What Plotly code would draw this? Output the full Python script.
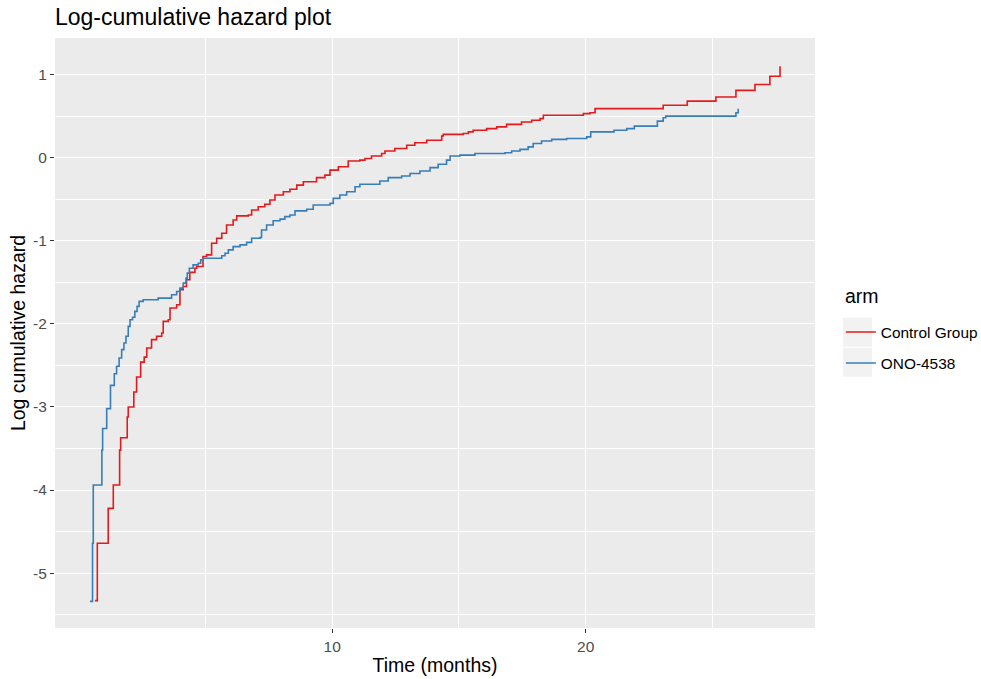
import plotly.graph_objects as go

# Data (time in months, log cumulative hazard), step function
ctrl_t = [0.64, 0.73, 1.16, 1.36, 1.61, 1.65, 1.91, 1.95, 2.17, 2.28, 2.44, 2.58, 2.68, 2.87,
          3.07, 3.27, 3.33, 3.53, 3.60, 3.86, 3.99, 4.12, 4.25, 4.38, 4.58, 4.65, 4.90, 5.04,
          5.24, 5.44, 5.64, 5.83, 6.09, 6.23, 6.69, 6.82, 7.08, 7.34, 7.54, 7.74, 8.07, 8.33,
          8.60, 8.86, 9.38, 9.71, 9.91, 10.24, 10.63, 11.09, 11.29, 11.55, 11.95, 12.08, 12.47,
          12.94, 13.26, 13.73, 14.32, 14.38, 15.17, 15.37, 15.56, 16.09, 16.49, 16.88, 17.47,
          17.87, 18.20, 18.33, 19.91, 20.17, 20.37, 23.06, 24.01, 25.14, 25.93, 26.68, 27.27, 27.67]
ctrl_y = [-5.33, -4.64, -4.22, -3.94, -3.52, -3.37, -3.12, -3.00, -2.82, -2.64, -2.46, -2.40, -2.29, -2.19,
          -2.15, -2.11, -1.97, -1.95, -1.81, -1.77, -1.59, -1.55, -1.47, -1.38, -1.33, -1.31, -1.19, -1.17,
          -1.03, -0.97, -0.91, -0.81, -0.75, -0.70, -0.69, -0.63, -0.59, -0.56, -0.51, -0.45, -0.41, -0.38,
          -0.33, -0.29, -0.24, -0.21, -0.15, -0.11, -0.04, -0.03, -0.01, 0.02, 0.05, 0.08, 0.11,
          0.15, 0.18, 0.21, 0.26, 0.28, 0.29, 0.31, 0.33, 0.35, 0.37, 0.40, 0.43,
          0.45, 0.47, 0.51, 0.53, 0.54, 0.59, 0.63, 0.68, 0.73, 0.81, 0.88, 0.98, 1.10]

ono_t = [0.44, 0.54, 0.57, 0.91, 0.94, 1.10, 1.25, 1.40, 1.49, 1.59, 1.69, 1.78, 1.86, 1.95, 2.02,
         2.12, 2.21, 2.30, 2.38, 2.54, 3.13, 3.66, 3.86, 3.99, 4.12, 4.23, 4.28, 4.36, 4.51, 4.71,
         4.81, 4.91, 5.64, 5.77, 5.90, 6.09, 6.36, 6.62, 6.82, 7.15, 7.21, 7.41, 7.67, 7.94, 8.13,
         8.33, 8.53, 8.99, 9.25, 9.91, 10.04, 10.30, 10.57, 10.90, 11.09, 11.88, 12.21, 12.74, 13.07,
         13.46, 13.86, 14.18, 14.51, 14.65, 15.04, 15.63, 16.82, 17.08, 17.41, 17.73, 17.93, 18.26,
         18.66, 19.25, 20.04, 20.20, 21.12, 21.62, 21.92, 22.83, 23.06, 23.16, 25.93, 26.02]
ono_y = [-5.34, -4.64, -3.94, -3.52, -3.26, -3.02, -2.74, -2.60, -2.51, -2.41, -2.31, -2.23, -2.15, -2.03, -1.95,
         -1.92, -1.85, -1.79, -1.73, -1.71, -1.69, -1.65, -1.61, -1.57, -1.51, -1.45, -1.39, -1.33, -1.29, -1.27,
         -1.23, -1.21, -1.18, -1.15, -1.11, -1.07, -1.05, -1.02, -0.97, -0.96, -0.87, -0.81, -0.76, -0.74, -0.71,
         -0.69, -0.64, -0.62, -0.57, -0.55, -0.49, -0.45, -0.41, -0.35, -0.32, -0.28, -0.24, -0.22, -0.19,
         -0.16, -0.12, -0.08, -0.03, 0.02, 0.03, 0.05, 0.06, 0.08, 0.10, 0.13, 0.17, 0.20,
         0.22, 0.23, 0.25, 0.31, 0.33, 0.35, 0.38, 0.44, 0.48, 0.50, 0.54, 0.59]

series_names = ["Control Group", "ONO-4538"]
series_colors = ["#E41A1C", "#377EB8"]
legend_title = "arm"

x_ticks = [10, 20]
x_tick_labels = ["10", "20"]
x_minor = [5, 15, 25]
y_ticks = [-5, -4, -3, -2, -1, 0, 1]
y_tick_labels = ["-5", "-4", "-3", "-2", "-1", "0", "1"]
y_minor = [-5.5, -4.5, -3.5, -2.5, -1.5, -0.5, 0.5]

font = "Liberation Sans, Arial, sans-serif"

fig = go.Figure()
for i, (t, y) in enumerate([(ctrl_t, ctrl_y), (ono_t, ono_y)]):
    fig.add_trace(go.Scatter(x=t, y=y, mode="lines", line=dict(color=series_colors[i], width=1.6, shape="hv"),
                             name=series_names[i], legendgroup=series_names[i]))

# legend key backgrounds (ggplot style)
for y0, y1 in [(0.4768, 0.526), (0.426, 0.475)]:
    fig.add_shape(type="rect", xref="paper", yref="paper", x0=1.0368, x1=1.075, y0=y0, y1=y1,
                  fillcolor="#F2F2F2", line=dict(width=0), layer="below")

# legend title (ggplot places it well above the keys)
fig.add_annotation(text=legend_title, xref="paper", yref="paper", x=1.0368, y=(628 - 296) / 590,
                   xanchor="left", yanchor="middle", showarrow=False,
                   font=dict(size=19.5, color="black"))

fig.update_layout(
    width=981, height=679,
    margin=dict(l=55, r=166, t=38, b=51, autoexpand=False),
    paper_bgcolor="white", plot_bgcolor="#EBEBEB",
    font=dict(family=font, color="#4D4D4D", size=15),
    title=dict(text="Log-cumulative hazard plot", x=55/981, xanchor="left", y=1-17/679, yanchor="middle",
               font=dict(size=23, color="black")),
    legend=dict(x=1.034, xanchor="left",
                y=(628 - 348) / 590, yanchor="middle", font=dict(size=15.4, color="black"), tracegroupgap=8,
                traceorder="grouped", bgcolor="rgba(0,0,0,0)"),
    showlegend=True,
)
fig.update_xaxes(range=[-0.94, 29.05], tickmode="array", tickvals=x_ticks, ticktext=x_tick_labels,
                 ticks="outside", ticklen=4, automargin=False,
                 tickcolor="#333333", tickfont=dict(size=15.5, color="#4D4D4D"), showgrid=True,
                 gridcolor="white", gridwidth=1.3, zeroline=False, showline=False,
                 minor=dict(tickvals=x_minor, showgrid=True, gridcolor="white", gridwidth=0.6, ticks=""),
                 title=dict(text="Time (months)", font=dict(size=19.5, color="black"), standoff=4))
fig.update_yaxes(range=[-5.66, 1.44], tickmode="array", tickvals=y_ticks, ticktext=y_tick_labels,
                 ticks="outside", ticklen=4, automargin=False,
                 tickcolor="#333333", tickfont=dict(size=15.5, color="#4D4D4D"), showgrid=True,
                 gridcolor="white", gridwidth=1.3, zeroline=False, showline=False,
                 minor=dict(tickvals=y_minor, showgrid=True, gridcolor="white", gridwidth=0.6, ticks=""),
                 title=dict(text="Log cumulative hazard", font=dict(size=19.5, color="black"), standoff=2))

fig.write_html("out.html")
